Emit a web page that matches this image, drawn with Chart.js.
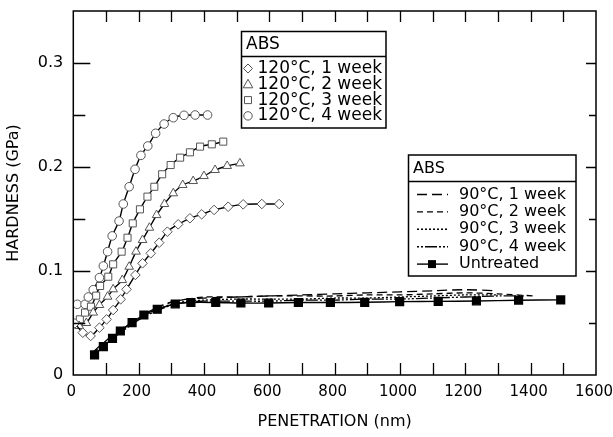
<!DOCTYPE html>
<html>
<head>
<meta charset="utf-8">
<script src="https://cdn.jsdelivr.net/npm/chart.js@4/dist/chart.umd.min.js"></script>
<style>
  html, body { margin: 0; padding: 0; background: #fff; }
  canvas { display: block; }
</style>
</head>
<body>
<canvas id="grafico" width="613" height="437"></canvas>
<script>
// Eixos
var xTickVals = [0, 200, 400, 600, 800, 1000, 1200, 1400, 1600];
var yTickVals = [0, 0.1, 0.2, 0.3];
var yTickLabels = ['0', '0.1', '0.2', '0.3'];
var xMinorTicks = [100, 200, 300, 400, 500, 600, 700, 800, 900, 1000, 1100, 1200, 1300, 1400, 1500];
var yMinorTicks = [0.05, 0.1, 0.15, 0.2, 0.25, 0.3];

// 120°C
var pen120w1 = [5, 29, 53, 80, 102, 122, 145, 163, 190, 212, 237, 263, 288, 321, 357, 393, 431, 474, 520, 577, 630];
var hard120w1 = [0.0497, 0.0407, 0.0375, 0.0455, 0.0535, 0.0625, 0.0728, 0.0824, 0.0962, 0.1074, 0.117, 0.1272, 0.1378, 0.1449, 0.1507, 0.1545, 0.1587, 0.1618, 0.1641, 0.1644, 0.1644];
var pen120w2 = [18, 40, 61, 80, 105, 122, 150, 171, 192, 212, 233, 255, 279, 306, 335, 367, 400, 434, 471, 510];
var hard120w2 = [0.0471, 0.050, 0.060, 0.0673, 0.0753, 0.0824, 0.0913, 0.1041, 0.1186, 0.1298, 0.1416, 0.1538, 0.1644, 0.1747, 0.1827, 0.1865, 0.1913, 0.1971, 0.201, 0.2035];
var pen120w3 = [20, 36, 54, 70, 82, 107, 122, 148, 166, 182, 204, 227, 248, 272, 298, 327, 357, 388, 424, 459];
var hard120w3 = [0.0535, 0.060, 0.0657, 0.0763, 0.0856, 0.0945, 0.1064, 0.1186, 0.132, 0.1458, 0.1593, 0.1715, 0.181, 0.193, 0.2019, 0.209, 0.2141, 0.2196, 0.2218, 0.2244];
var pen120w4 = [12, 36, 46, 61, 80, 92, 105, 119, 140, 153, 171, 189, 207, 228, 252, 278, 306, 339, 373, 411];
var hard120w4 = [0.068, 0.068, 0.075, 0.082, 0.0936, 0.1048, 0.1186, 0.1337, 0.148, 0.1644, 0.181, 0.1978, 0.2112, 0.2202, 0.2324, 0.2413, 0.2474, 0.2497, 0.25, 0.25];

// 90°C
var pen90w1 = [60, 100, 150, 200, 250, 300, 350, 400, 500, 600, 700, 800, 900, 1000, 1100, 1200, 1290];
var hard90w1 = [0.022, 0.033, 0.045, 0.056, 0.064, 0.070, 0.073, 0.074, 0.075, 0.076, 0.077, 0.078, 0.079, 0.080, 0.081, 0.082, 0.081];
var pen90w2 = [60, 100, 150, 200, 250, 300, 350, 400, 500, 600, 700, 800, 900, 1000, 1100, 1200, 1300, 1410];
var hard90w2 = [0.021, 0.032, 0.044, 0.055, 0.064, 0.070, 0.073, 0.075, 0.075, 0.076, 0.076, 0.076, 0.077, 0.077, 0.078, 0.079, 0.078, 0.076];
var pen90w3 = [60, 100, 150, 200, 250, 300, 350, 400, 500, 600, 700, 800, 900, 1000, 1100, 1200, 1300];
var hard90w3 = [0.021, 0.031, 0.043, 0.054, 0.062, 0.068, 0.071, 0.072, 0.073, 0.073, 0.073, 0.074, 0.074, 0.075, 0.076, 0.077, 0.077];
var pen90w4 = [60, 100, 150, 200, 250, 300, 350, 400, 500, 600, 700, 800, 900, 1000, 1100, 1200, 1300, 1380];
var hard90w4 = [0.020, 0.030, 0.042, 0.053, 0.061, 0.067, 0.070, 0.071, 0.071, 0.071, 0.072, 0.072, 0.073, 0.073, 0.074, 0.075, 0.076, 0.076];

// Sem tratamento
var penUntreated = [65, 92, 120, 144, 180, 216, 257, 312, 360, 436, 513, 598, 689, 787, 892, 999, 1117, 1234, 1363, 1492];
var hardUntreated = [0.0193, 0.0273, 0.0353, 0.0423, 0.0504, 0.0577, 0.0632, 0.0683, 0.0697, 0.0697, 0.0692, 0.0692, 0.0697, 0.0697, 0.0699, 0.0706, 0.0708, 0.0712, 0.0719, 0.0722];

var legend120 = ['120°C, 1 week', '120°C, 2 week', '120°C, 3 week', '120°C, 4 week'];
var legend90 = ['90°C, 1 week', '90°C, 2 week', '90°C, 3 week', '90°C, 4 week', 'Untreated'];

function pares(xs, ys) {
    return xs.map((v, i) => ({ x: v, y: ys[i] }));
}

var FONTE = "'DejaVu Sans', sans-serif";
Chart.defaults.font.family = FONTE;
Chart.defaults.font.size = 16;
Chart.defaults.color = '#000';

function serie120(xs, ys, estilo, raio) {
    return {
        data: pares(xs, ys),
        borderColor: '#000',
        borderWidth: 1.4,
        pointStyle: estilo,
        pointRadius: raio,
        pointBackgroundColor: '#fff',
        pointBorderColor: '#555',
        pointBorderWidth: 1,
        tension: 0.3
    };
}

function serie90(xs, ys, tracejado) {
    return {
        data: pares(xs, ys),
        borderColor: '#000',
        borderWidth: 1.3,
        borderDash: tracejado,
        pointRadius: 0,
        tension: 0.3
    };
}

var dashes90 = [[10, 5], [6, 4], [2, 2], [2, 2, 2, 2, 12, 2]];

var datasets = [
    serie90(pen90w1, hard90w1, dashes90[0]),
    serie90(pen90w2, hard90w2, dashes90[1]),
    serie90(pen90w3, hard90w3, dashes90[2]),
    serie90(pen90w4, hard90w4, dashes90[3]),
    {
        data: pares(penUntreated, hardUntreated),
        borderColor: '#000',
        borderWidth: 1.4,
        pointStyle: 'rect',
        pointRadius: 5.5,
        pointBackgroundColor: '#000',
        pointBorderColor: '#000',
        tension: 0.3
    },
    serie120(pen120w1, hard120w1, 'rectRot', 4.8),
    serie120(pen120w2, hard120w2, 'triangle', 5),
    serie120(pen120w3, hard120w3, 'rect', 5),
    serie120(pen120w4, hard120w4, 'circle', 4.3)
];

function marcador(ctx, tipo, x, y) {
    ctx.save();
    ctx.strokeStyle = '#555';
    ctx.fillStyle = '#fff';
    ctx.lineWidth = 1;
    ctx.beginPath();
    if (tipo == 'rectRot') {
        ctx.moveTo(x, y - 4.5); ctx.lineTo(x + 4.5, y); ctx.lineTo(x, y + 4.5); ctx.lineTo(x - 4.5, y); ctx.closePath();
    } else if (tipo == 'triangle') {
        ctx.moveTo(x, y - 5); ctx.lineTo(x + 4.8, y + 3.5); ctx.lineTo(x - 4.8, y + 3.5); ctx.closePath();
    } else if (tipo == 'rect') {
        ctx.rect(x - 3.5, y - 3.5, 7, 7);
    } else {
        ctx.arc(x, y, 4.2, 0, Math.PI * 2);
    }
    ctx.fill();
    ctx.stroke();
    ctx.restore();
}

var decoracao = {
    id: 'decoracao',
    afterDraw(chart) {
        var ctx = chart.ctx, a = chart.chartArea;
        var sx = chart.scales.x, sy = chart.scales.y;
        ctx.save();
        ctx.strokeStyle = '#000';
        ctx.lineWidth = 1.5;
        ctx.strokeRect(a.left, a.top, a.right - a.left, a.bottom - a.top);

        // marcas internas
        ctx.lineWidth = 1.3;
        ctx.beginPath();
        xMinorTicks.forEach(v => {
            var px = Math.round(sx.getPixelForValue(v)) + 0.5;
            ctx.moveTo(px, a.bottom); ctx.lineTo(px, a.bottom - 12);
            ctx.moveTo(px, a.top); ctx.lineTo(px, a.top + 11);
        });
        yMinorTicks.forEach(v => {
            var py = Math.round(sy.getPixelForValue(v)) + 0.5;
            var maior = Math.abs(v * 10 - Math.round(v * 10)) < 1e-6;
            ctx.moveTo(a.left, py); ctx.lineTo(a.left + (maior ? 17 : 12), py);
            ctx.moveTo(a.right, py); ctx.lineTo(a.right - (maior ? 10 : 7), py);
        });
        ctx.stroke();

        // legenda 120°C
        ctx.fillStyle = '#fff';
        ctx.lineWidth = 1.5;
        ctx.fillRect(241.5, 31.5, 144.5, 96.5);
        ctx.strokeRect(241.5, 31.5, 144.5, 96.5);
        ctx.beginPath(); ctx.moveTo(241.5, 56.5); ctx.lineTo(386, 56.5); ctx.stroke();
        ctx.fillStyle = '#000';
        ctx.textBaseline = 'middle';
        ctx.font = '17px ' + FONTE;
        ctx.fillText('ABS', 246, 44.5);
        var tipos = ['rectRot', 'triangle', 'rect', 'circle'];
        legend120.forEach((t, i) => {
            var yy = 68.5 + i * 15.8;
            marcador(ctx, tipos[i], 248, yy);
            ctx.fillStyle = '#000';
            ctx.fillText(t, 257.5, yy);
        });

        // legenda 90°C
        ctx.fillStyle = '#fff';
        ctx.fillRect(408.5, 155, 167.5, 121);
        ctx.strokeRect(408.5, 155, 167.5, 121);
        ctx.beginPath(); ctx.moveTo(408.5, 181.5); ctx.lineTo(576, 181.5); ctx.stroke();
        ctx.fillStyle = '#000';
        ctx.font = '16px ' + FONTE;
        ctx.fillText('ABS', 413, 168.5);
        legend90.forEach((t, i) => {
            var yy = 194.5 + i * 17.4;
            ctx.save();
            ctx.lineWidth = 1.4;
            ctx.setLineDash(i < 4 ? dashes90[i] : []);
            ctx.beginPath(); ctx.moveTo(417, yy); ctx.lineTo(448, yy); ctx.stroke();
            ctx.restore();
            if (i == 4) ctx.fillRect(428, yy - 4, 8, 8);
            ctx.fillText(t, 459, yy);
        });
        ctx.restore();
    }
};

var ctx = document.getElementById('grafico').getContext('2d');
new Chart(ctx, {
    type: 'line',
    data: { datasets: datasets },
    options: {
        responsive: false,
        animation: false,
        devicePixelRatio: 1,
        layout: { padding: { top: 11, right: 17, left: 0, bottom: 0 } },
        plugins: { legend: { display: false }, tooltip: { enabled: false } },
        scales: {
            x: {
                type: 'linear',
                min: 0,
                max: 1600,
                grid: { display: false, drawTicks: false },
                border: { display: false },
                afterFit: s => { s.height = 62; s.paddingLeft = 0; s.paddingRight = 0; },
                afterBuildTicks: s => { s.ticks = xTickVals.map(v => ({ value: v })); },
                ticks: { padding: 8, maxRotation: 0, autoSkip: false, labelOffset: -2, font: { size: 15 }, callback: v => String(v) },
                title: { display: true, text: 'PENETRATION (nm)', padding: { top: 4, bottom: 6 } }
            },
            y: {
                type: 'linear',
                min: 0,
                max: 0.35,
                grid: { display: false, drawTicks: false },
                border: { display: false },
                afterFit: s => { s.width = 73.3; s.paddingTop = 0; s.paddingBottom = 0; },
                afterBuildTicks: s => { s.ticks = yTickVals.map(v => ({ value: v })); },
                ticks: { padding: 10, callback: (v, i) => yTickLabels[i] },
                title: { display: true, text: 'HARDNESS (GPa)', padding: { top: 4, bottom: 4 } }
            }
        }
    },
    plugins: [decoracao]
});
</script>
</body>
</html>
